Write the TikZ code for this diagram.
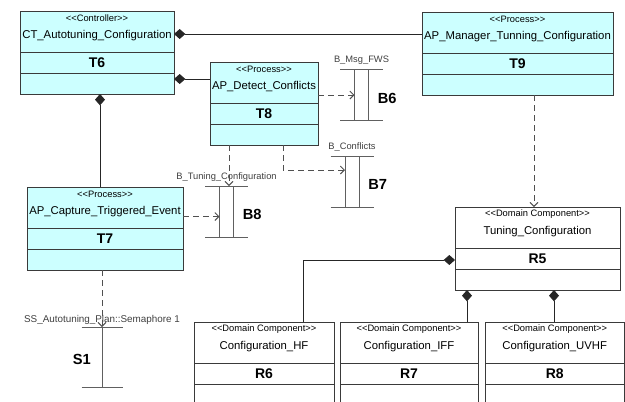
\documentclass[tikz,border=0pt]{standalone}
\usepackage{fontspec}
\setmainfont{Liberation Sans}[Ligatures=TeXOff]
\usetikzlibrary{arrows.meta,calc,positioning}

\definecolor{procfill}{HTML}{CCFFFF}
\definecolor{edgegray}{HTML}{3A3A3A}
\definecolor{depgray}{HTML}{505050}
\definecolor{bufgray}{HTML}{606060}

\tikzset{
  classbox/.style={draw=edgegray, line width=0.7pt, inner sep=0pt, outer sep=0pt},
  procbox/.style={classbox, fill=procfill},
  domainbox/.style={classbox, fill=white},
  classline/.style={draw=edgegray, line width=0.7pt},
  stereo/.style={font=\fontsize{7}{8}\selectfont, inner sep=0pt},
  cname/.style={font=\fontsize{8.5}{10}\selectfont, inner sep=0pt},
  cid/.style={font=\fontsize{10.5}{12}\selectfont\bfseries, inner sep=0pt},
  bufbox/.style={inner sep=0pt, outer sep=0pt, minimum width=32.25pt, minimum height=38.25pt},
  bufline/.style={draw=bufgray, line width=0.7pt},
  buflabel/.style={font=\fontsize{7}{8}\selectfont, text=black!75, inner sep=0pt},
  bufid/.style={font=\fontsize{11}{13}\selectfont\bfseries, inner sep=0pt},
  comp/.style={draw=black!85, line width=0.7pt, {Diamond[length=8.5pt,width=7.5pt]}-},
  dep/.style={draw=depgray, line width=0.7pt, dash pattern=on 4.5pt off 3pt,
    -{Straight Barb[length=3pt,width=6pt]}},
}

% class with stereotype, name, id row and an empty row
% #1 style, #2 name, #3 left, #4 top, #5 width, #6 stereotype, #7 title, #8 id
\newcommand{\umlclass}[8]{%
  \node[#1, minimum width={#5*0.75pt}, minimum height={83*0.75pt}, anchor=north west] (#2) at (#3,#4) {};
  \draw[classline] ($(#2.north west)+(0,41)$) -- ($(#2.north east)+(0,41)$);
  \draw[classline] ($(#2.north west)+(0,62)$) -- ($(#2.north east)+(0,62)$);
  \node[stereo] at ($(#2.north)+(0,7)$) {<<#6>>};
  \node[cname] at ($(#2.north)+(0,25)$) {#7};
  \node[cid] at ($(#2.north)+(0,52)$) {#8};
}

\begin{document}
\begin{tikzpicture}[x=0.75pt,y=-0.75pt]
  \useasboundingbox (0,0) rectangle (625,401);
  \clip (0,0) rectangle (625,401);

  % Processes and controller
  \umlclass{procbox}{ct}{20}{11}{154}{Controller}{CT\_Autotuning\_Configuration}{T6}
  \umlclass{procbox}{apd}{210}{62}{108}{Process}{AP\_Detect\_Conflicts}{T8}
  \umlclass{procbox}{apm}{422}{12}{191}{Process}{AP\_Manager\_Tunning\_Configuration}{T9}
  \umlclass{procbox}{apc}{27}{187}{156}{Process}{AP\_Capture\_Triggered\_Event}{T7}

  % Domain components
  \umlclass{domainbox}{tc}{455}{207}{165}{Domain Component}{Tuning\_Configuration}{R5}
  \umlclass{domainbox}{hf}{194}{322}{140}{Domain Component}{Configuration\_HF}{R6}
  \umlclass{domainbox}{iff}{340}{322}{138}{Domain Component}{Configuration\_IFF}{R7}
  \umlclass{domainbox}{uvhf}{485}{322}{139.5}{Domain Component}{Configuration\_UVHF}{R8}

  % Buffers
  \foreach \n/\x/\y/\lbl/\tag in {b6/361.5/95/B\_Msg\_FWS/B6,
      b7/352/181.5/B\_Conflicts/B7,
      b8/226.5/211.5/B\_Tuning\_Configuration/B8} {
    \node[bufbox] (\n) at (\x,\y) {};
    \draw[bufline] (\n.north west) -- (\n.north east);
    \draw[bufline] (\n.south west) -- (\n.south east);
    \draw[bufline] ($(\n.north)+(-7,0)$) -- ($(\n.south)+(-7,0)$);
    \draw[bufline] ($(\n.north)+(7,0)$) -- ($(\n.south)+(7,0)$);
    \node[buflabel] at ($(\n.north)+(0,-9)$) {\lbl};
    \node[bufid, anchor=west] at ($(\n.center)+(16,3)$) {\tag};
  }

  % Semaphore
  \node[bufbox, minimum width=30.75pt, minimum height=45pt] (s1) at (102,357) {};
  \draw[bufline] (s1.north west) -- (s1.north east);
  \draw[bufline] (s1.south west) -- (s1.south east);
  \draw[bufline] (s1.north) -- (s1.south);
  \node[buflabel, font=\fontsize{7.4}{8}\selectfont] at ($(s1.north)+(0,-7)$) {SS\_Autotuning\_Plan::Semaphore 1};
  \node[bufid, anchor=east] at ($(s1.center)+(-11,2)$) {S1};

  % Compositions
  \draw[comp] ($(ct.north east)+(0,23)$) coordinate (k1) -- (k1 -| apm.west);
  \draw[comp] ($(ct.north east)+(0,68)$) coordinate (k2) -- (k2 -| apd.west);
  \draw[comp] ($(ct.south)+(3,0)$) coordinate (k3) -- (k3 |- apc.north);
  \draw[comp] ($(tc.north west)+(0,53)$) -| ($(hf.north)+(39,0)$);
  \draw[comp] ($(tc.south)+(-70.5,0)$) coordinate (k5) -- (k5 |- iff.north);
  \draw[comp] ($(tc.south)+(16.5,0)$) coordinate (k6) -- (k6 |- uvhf.north);

  % Dependencies
  \draw[dep] (apd.east |- b6) -- ($(b6.center)+(-7,0)$);
  \draw[dep] ($(apd.south)+(19,0)$) |- ($(b7.center)+(-7,-11.5)$);
  \draw[dep] ($(apd.south)+(-35,0)$) coordinate (d8) -- (d8 |- b8.north);
  \draw[dep] ($(apc.east)+(0,-12)$) coordinate (c8) -- ($(c8 -| b8.center)+(-7,0)$);
  \draw[dep] (s1.north |- apc.south) -- (s1.north);
  \draw[dep] ($(apm.south)+(16.5,0)$) coordinate (m9) -- (m9 |- tc.north);
\end{tikzpicture}
\end{document}
